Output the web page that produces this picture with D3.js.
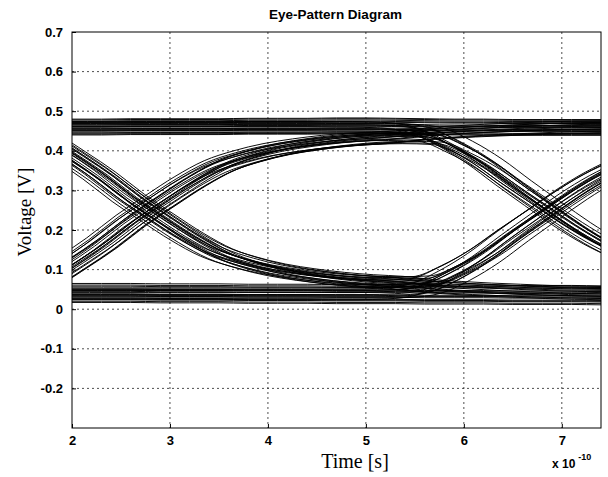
<!DOCTYPE html>
<html>
<head>
<meta charset="utf-8">
<script src="https://cdn.jsdelivr.net/npm/d3@7"></script>
<style>
  body { margin: 0; background: #fff; }
  .chart { width: 608px; height: 477px; }
  text { fill: #000; }
  .tick-label { font-family: "Liberation Sans", Arial, sans-serif; font-size: 13px; font-weight: bold; }
  .axis-title { font-family: "Liberation Serif", "Times New Roman", serif; }
</style>
</head>
<body>
<div class="chart"></div>
<script>
// sample times (units of 1e-10 s) shared by every waveform
const timeGrid = [1.4, 1.7, 2.0, 2.3, 2.6, 2.9, 3.2, 3.5, 3.8, 4.1, 4.4, 4.7, 5.0, 5.3, 5.6, 5.9, 6.2, 6.5, 6.8, 7.1, 7.4, 7.7, 8.0];

// one waveform per three-bit pattern, volts
const wave000 = [0.040, 0.040, 0.039, 0.039, 0.039, 0.038, 0.038, 0.038, 0.037, 0.037, 0.037, 0.036, 0.036, 0.036, 0.035, 0.035, 0.035, 0.034, 0.034, 0.034, 0.033, 0.033, 0.033];
const wave111 = [0.461, 0.461, 0.461, 0.461, 0.462, 0.462, 0.462, 0.462, 0.463, 0.463, 0.463, 0.464, 0.464, 0.463, 0.462, 0.461, 0.461, 0.460, 0.460, 0.460, 0.460, 0.460, 0.460];
const wave100 = [0.452, 0.430, 0.385, 0.335, 0.278, 0.228, 0.180, 0.140, 0.115, 0.097, 0.085, 0.076, 0.070, 0.066, 0.058, 0.053, 0.049, 0.046, 0.043, 0.041, 0.040, 0.039, 0.038];
const wave011 = [0.048, 0.070, 0.115, 0.165, 0.222, 0.272, 0.320, 0.360, 0.385, 0.403, 0.415, 0.424, 0.430, 0.434, 0.442, 0.447, 0.451, 0.454, 0.457, 0.459, 0.460, 0.461, 0.462];
const wave001 = [0.040, 0.040, 0.040, 0.040, 0.040, 0.040, 0.040, 0.040, 0.040, 0.040, 0.040, 0.040, 0.040, 0.042, 0.052, 0.085, 0.130, 0.185, 0.238, 0.290, 0.335, 0.370, 0.392];
const wave110 = [0.460, 0.460, 0.460, 0.460, 0.460, 0.460, 0.460, 0.460, 0.460, 0.460, 0.460, 0.460, 0.460, 0.458, 0.448, 0.415, 0.370, 0.315, 0.262, 0.210, 0.165, 0.130, 0.108];
const wave101 = [0.452, 0.430, 0.385, 0.335, 0.278, 0.228, 0.180, 0.140, 0.115, 0.097, 0.085, 0.076, 0.070, 0.068, 0.070, 0.098, 0.139, 0.191, 0.241, 0.291, 0.335, 0.369, 0.390];
const wave010 = [0.048, 0.070, 0.115, 0.165, 0.222, 0.272, 0.320, 0.360, 0.385, 0.403, 0.415, 0.424, 0.430, 0.432, 0.430, 0.402, 0.361, 0.309, 0.259, 0.209, 0.165, 0.131, 0.110];

// each sweep: [pattern, time shift, voltage offset]
const sweeps = [
  ['111', 0, 0.019], ['111', 0, 0.014], ['111', 0, 0.009], ['111', 0, 0.004], ['111', 0, -0.001], ['111', 0, -0.006],
  ['111', 0, -0.011], ['111', 0, -0.016], ['111', 0, -0.021], ['111', 0, 0.017], ['111', 0, 0.001], ['111', 0, -0.009],
  ['111', 0, 0.011], ['111', 0, -0.019],
  ['000', 0, 0.026], ['000', 0, 0.019], ['000', 0, 0.012], ['000', 0, 0.006], ['000', 0, 0.000], ['000', 0, -0.006],
  ['000', 0, -0.011], ['000', 0, -0.015], ['000', 0, -0.019], ['000', 0, -0.022], ['000', 0, 0.022], ['000', 0, -0.003],
  ['000', 0, 0.009], ['000', 0, -0.013],
  ['100', -0.16, 0.008], ['100', -0.11, -0.012], ['100', -0.07, 0.015], ['100', -0.03, -0.004], ['100', 0.00, 0.010],
  ['100', 0.03, -0.016], ['100', 0.06, 0.004], ['100', 0.10, -0.008], ['100', 0.14, 0.012], ['100', 0.18, -0.002],
  ['100', -0.19, -0.006], ['100', 0.08, 0.017],
  ['011', 0.15, -0.010], ['011', 0.09, 0.012], ['011', 0.05, -0.004], ['011', 0.01, 0.016], ['011', -0.02, -0.014],
  ['011', -0.06, 0.006], ['011', -0.10, -0.006], ['011', -0.13, 0.010], ['011', -0.17, -0.002], ['011', 0.12, 0.003],
  ['011', 0.19, 0.008], ['011', -0.08, -0.016],
  ['101', -0.13, 0.012], ['101', -0.08, -0.006], ['101', -0.04, 0.003], ['101', 0.00, -0.012], ['101', 0.02, 0.008],
  ['101', 0.05, 0.014], ['101', 0.09, -0.010], ['101', 0.12, 0.000], ['101', 0.16, -0.004], ['101', -0.17, 0.006],
  ['010', 0.17, -0.008], ['010', 0.11, 0.010], ['010', 0.07, -0.014], ['010', 0.04, 0.004], ['010', 0.01, -0.002],
  ['010', -0.03, 0.012], ['010', -0.07, -0.006], ['010', -0.11, 0.008], ['010', -0.15, 0.015], ['010', 0.13, -0.012],
  ['110', -0.14, 0.014], ['110', -0.09, -0.010], ['110', -0.05, 0.006], ['110', -0.01, -0.004], ['110', 0.03, 0.011],
  ['110', 0.07, -0.015], ['110', 0.11, 0.002], ['110', 0.15, -0.007], ['110', 0.19, 0.009], ['110', -0.18, 0.000],
  ['001', 0.16, -0.012], ['001', 0.12, 0.009], ['001', 0.08, -0.006], ['001', 0.02, 0.014], ['001', -0.01, -0.003],
  ['001', -0.04, 0.007], ['001', -0.08, -0.016], ['001', -0.12, 0.002], ['001', -0.16, 0.011], ['001', 0.05, -0.009]
];

const xTicks = [2, 3, 4, 5, 6, 7];
const yTicks = [-0.2, -0.1, 0, 0.1, 0.2, 0.3, 0.4, 0.5, 0.6, 0.7];
const yTickLabels = ['-0.2', '-0.1', '0', '0.1', '0.2', '0.3', '0.4', '0.5', '0.6', '0.7'];

const waves = { '000': wave000, '111': wave111, '100': wave100, '011': wave011,
                '001': wave001, '110': wave110, '101': wave101, '010': wave010 };

const margin = { top: 32, left: 72, right: 7, bottom: 49 };
const width = 608 - margin.left - margin.right;
const height = 477 - margin.top - margin.bottom;

const svg = d3.select('.chart').append('svg')
    .attr('width', 608).attr('height', 477);

const group = svg.append('g')
    .attr('transform', 'translate(' + margin.left + ', ' + margin.top + ')');

const x = d3.scaleLinear().domain([2, 7.4]).range([0, width]);
const y = d3.scaleLinear().domain([-0.3, 0.7]).range([height, 0]);

svg.append('defs').append('clipPath').attr('id', 'plot-clip')
    .append('rect').attr('width', width).attr('height', height);

// dotted grid
const grid = group.append('g')
    .style('stroke', '#222').style('stroke-width', 0.8).style('stroke-dasharray', '2,3');
grid.selectAll('.vgrid').data(xTicks.slice(1)).enter().append('line')
    .attr('x1', d => x(d)).attr('x2', d => x(d)).attr('y1', 0).attr('y2', height);
grid.selectAll('.hgrid').data(yTicks.slice(0, -1)).enter().append('line')
    .attr('y1', d => y(d)).attr('y2', d => y(d)).attr('x1', 0).attr('x2', width);

// eye traces
const line = d3.line().curve(d3.curveMonotoneX);
group.append('g').attr('clip-path', 'url(#plot-clip)')
    .selectAll('path').data(sweeps).enter().append('path')
    .attr('d', function (s) {
        const wave = waves[s[0]];
        return line(wave.map(function (v, i) {
            return [x(timeGrid[i] + s[1]), y(v + s[2])];
        }));
    })
    .style('fill', 'none')
    .style('stroke', '#000')
    .style('stroke-width', 0.95);

// axes with inward ticks
const xAxis = group.append('g').attr('transform', 'translate(0, ' + height + ')')
    .call(d3.axisBottom(x).tickValues(xTicks).tickFormat(d3.format('d')).tickSize(-4).tickPadding(8));
const yAxis = group.append('g')
    .call(d3.axisLeft(y).tickValues(yTicks).tickFormat((d, i) => yTickLabels[i]).tickSize(-4).tickPadding(9));

[xAxis, yAxis].forEach(function (a) {
    a.attr('font-family', null).attr('font-size', null);
    a.select('.domain').remove();
    a.selectAll('line').style('stroke', '#000');
    a.selectAll('text').attr('class', 'tick-label');
});

// frame
group.append('rect').attr('width', width).attr('height', height)
    .style('fill', 'none').style('stroke', '#000').style('stroke-width', 1);

// texts
svg.append('text').attr('class', 'tick-label')
    .attr('x', margin.left + width / 2 - 1).attr('y', 19)
    .attr('text-anchor', 'middle').style('font-size', '13.5px').text('Eye-Pattern Diagram');

svg.append('text').attr('class', 'axis-title')
    .attr('transform', 'translate(31, 212) rotate(-90)')
    .attr('text-anchor', 'middle').style('font-size', '19px').text('Voltage [V]');

svg.append('text').attr('class', 'axis-title')
    .attr('x', 355).attr('y', 468)
    .attr('text-anchor', 'middle').style('font-size', '20px').text('Time [s]');

const exponent = svg.append('text').attr('class', 'tick-label')
    .attr('x', 552).attr('y', 468).style('font-size', '12px');
exponent.append('tspan').text('x 10');
exponent.append('tspan').attr('dx', 3).attr('dy', -8).style('font-size', '9px').text('-10');
</script>
</body>
</html>
